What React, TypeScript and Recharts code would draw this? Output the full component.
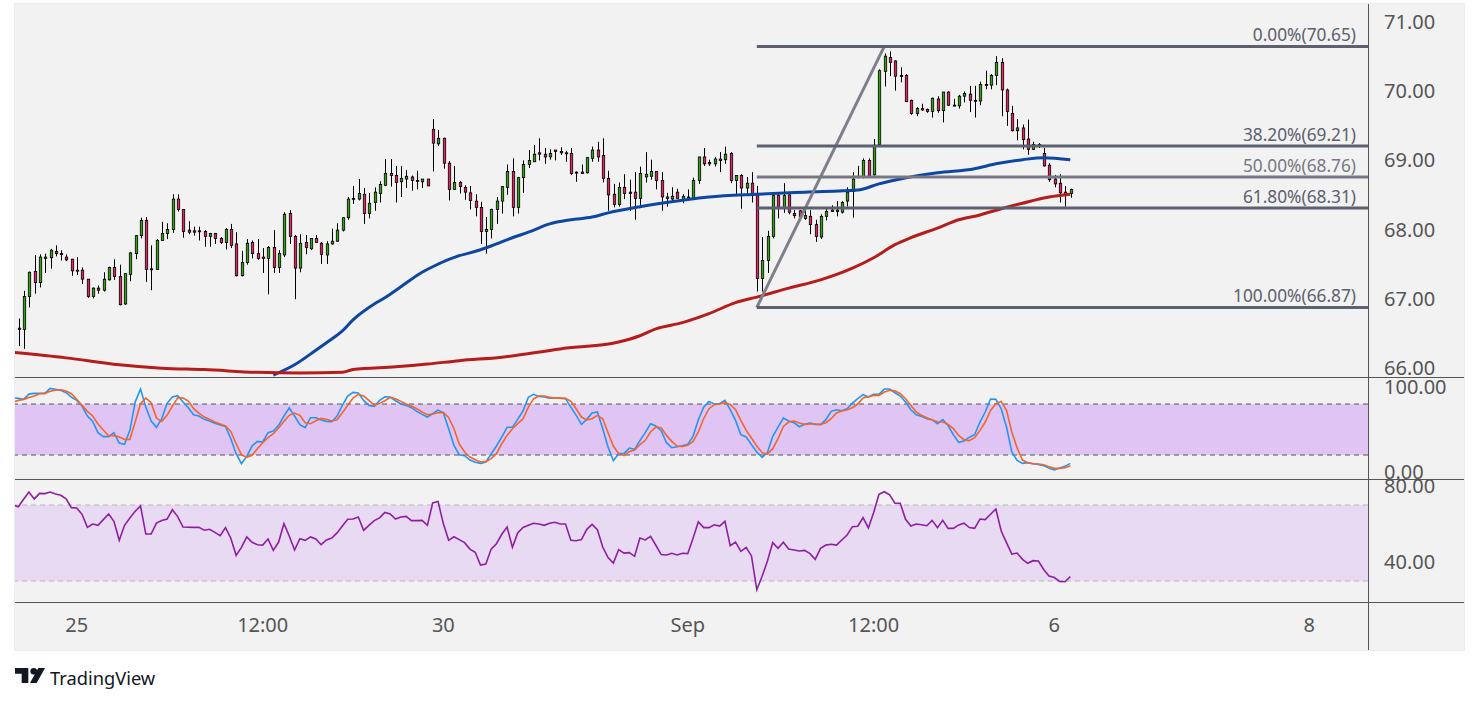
import React from 'react';
import { ComposedChart, Bar, Line, XAxis, YAxis, ReferenceLine, ReferenceArea } from 'recharts';

// candles
const opens = [
  66.57, 66.55, 67.03, 67.39, 67.23, 67.58, 67.59, 67.68, 67.65, 67.60,
  67.57, 67.41, 67.41, 67.28, 67.03, 67.15, 67.12, 67.27, 67.45, 67.32,
  66.92, 67.35, 67.65, 67.91, 68.13, 67.43, 67.42, 67.84, 67.94, 68.00,
  68.44, 68.29, 67.99, 67.98, 67.98, 67.97, 67.90, 67.94, 67.87, 67.81,
  68.00, 67.79, 67.33, 67.52, 67.81, 67.65, 67.60, 67.58, 67.74, 67.45,
  67.63, 68.23, 67.90, 67.44, 67.81, 67.72, 67.87, 67.80, 67.63, 67.79,
  67.83, 67.99, 68.17, 68.45, 68.44, 68.51, 68.23, 68.39, 68.52, 68.64,
  68.81, 68.78, 68.69, 68.73, 68.76, 68.71, 68.69, 68.73, 69.45, 69.24,
  69.32, 68.96, 68.58, 68.68, 68.61, 68.53, 68.41, 68.32, 67.97, 68.00,
  68.29, 68.41, 68.61, 68.84, 68.32, 68.75, 68.94, 68.98, 69.11, 69.09,
  69.05, 69.15, 69.13, 69.11, 69.10, 68.83, 68.83, 68.82, 69.03, 69.15,
  69.07, 68.74, 68.51, 68.36, 68.61, 68.54, 68.54, 68.45, 68.76, 68.77,
  68.84, 68.71, 68.47, 68.44, 68.54, 68.43, 68.47, 68.45, 68.71, 69.05,
  68.97, 68.95, 69.02, 69.01, 69.10, 68.71, 68.78, 68.60, 68.67, 68.49,
  67.29, 67.55, 67.90, 68.49, 68.32, 68.50, 68.23, 68.27, 68.16, 68.19,
  68.07, 67.89, 68.19, 68.26, 68.28, 68.25, 68.41, 68.55, 68.76, 68.76,
  69.00, 68.79, 69.23, 70.29, 70.49, 70.44, 70.23, 70.23, 69.87, 69.68,
  69.75, 69.74, 69.71, 69.89, 69.72, 69.99, 69.80, 69.79, 69.93, 69.96,
  69.87, 69.86, 70.10, 70.09, 70.23, 70.42, 70.02, 69.68, 69.43, 69.47,
  69.31, 69.16, 69.23, 69.10, 68.93, 68.73, 68.67, 68.54, 68.52,
];
const closes = [
  66.55, 67.03, 67.38, 67.23, 67.60, 67.60, 67.70, 67.65, 67.64, 67.56,
  67.40, 67.40, 67.28, 67.03, 67.15, 67.12, 67.28, 67.45, 67.32, 66.91,
  67.36, 67.66, 67.91, 68.13, 67.42, 67.42, 67.84, 67.94, 68.00, 68.44,
  68.29, 67.97, 67.96, 67.96, 67.97, 67.90, 67.94, 67.87, 67.81, 68.00,
  67.77, 67.33, 67.52, 67.80, 67.65, 67.58, 67.58, 67.74, 67.45, 67.65,
  68.22, 67.90, 67.44, 67.80, 67.74, 67.87, 67.81, 67.64, 67.79, 67.83,
  67.99, 68.17, 68.44, 68.44, 68.52, 68.23, 68.38, 68.54, 68.65, 68.81,
  68.78, 68.68, 68.74, 68.77, 68.71, 68.70, 68.73, 68.63, 69.25, 69.32,
  68.96, 68.58, 68.68, 68.62, 68.54, 68.42, 68.32, 67.97, 68.00, 68.29,
  68.41, 68.62, 68.84, 68.32, 68.75, 68.94, 69.00, 69.09, 69.09, 69.05,
  69.10, 69.13, 69.11, 69.11, 68.81, 68.82, 68.81, 69.04, 69.15, 69.05,
  68.74, 68.50, 68.36, 68.61, 68.52, 68.52, 68.45, 68.81, 68.80, 68.84,
  68.71, 68.47, 68.45, 68.48, 68.45, 68.48, 68.46, 68.71, 69.05, 68.95,
  68.95, 69.02, 69.00, 69.09, 68.71, 68.78, 68.60, 68.67, 68.49, 67.29,
  67.55, 67.90, 68.49, 68.32, 68.49, 68.25, 68.20, 68.18, 68.20, 68.07,
  67.90, 68.19, 68.26, 68.28, 68.26, 68.39, 68.54, 68.73, 68.77, 69.00,
  68.77, 69.22, 70.30, 70.51, 70.42, 70.22, 70.22, 69.85, 69.68, 69.75,
  69.73, 69.71, 69.90, 69.72, 69.99, 69.80, 69.79, 69.93, 69.97, 69.87,
  69.86, 70.10, 70.09, 70.23, 70.42, 70.02, 69.71, 69.43, 69.47, 69.30,
  69.16, 69.23, 69.22, 68.92, 68.72, 68.66, 68.53, 68.50, 68.58,
];
const highs = [
  66.71, 67.11, 67.39, 67.63, 67.64, 67.65, 67.72, 67.77, 67.70, 67.64,
  67.57, 67.60, 67.45, 67.28, 67.16, 67.19, 67.38, 67.46, 67.57, 67.49,
  67.37, 67.67, 67.92, 68.17, 68.18, 67.77, 67.86, 68.11, 68.09, 68.51,
  68.51, 68.29, 68.12, 68.04, 68.04, 67.99, 67.95, 67.95, 67.89, 68.02,
  68.08, 67.96, 67.69, 67.86, 67.84, 67.86, 67.73, 67.76, 67.99, 67.70,
  68.25, 68.28, 67.92, 67.93, 67.92, 67.87, 67.92, 67.82, 67.83, 68.01,
  68.09, 68.18, 68.47, 68.63, 68.73, 68.60, 68.53, 68.61, 68.70, 69.02,
  69.02, 68.92, 68.92, 68.86, 68.78, 68.85, 68.73, 68.73, 69.60, 69.44,
  69.33, 68.99, 68.92, 68.70, 68.64, 68.63, 68.51, 68.40, 68.18, 68.30,
  68.47, 68.63, 68.94, 69.03, 68.76, 69.00, 69.15, 69.22, 69.32, 69.18,
  69.16, 69.15, 69.19, 69.14, 69.18, 68.84, 68.94, 69.05, 69.20, 69.27,
  69.32, 68.85, 68.66, 68.68, 68.80, 68.72, 68.83, 68.91, 69.12, 69.01,
  68.84, 68.83, 68.53, 68.61, 68.59, 68.51, 68.58, 68.75, 69.05, 69.18,
  69.01, 69.05, 69.12, 69.20, 69.12, 68.78, 68.80, 68.76, 68.83, 68.63,
  67.89, 67.98, 68.53, 68.52, 68.67, 68.51, 68.28, 68.28, 68.28, 68.28,
  68.14, 68.22, 68.31, 68.35, 68.41, 68.41, 68.61, 68.83, 68.92, 69.03,
  69.03, 69.31, 70.32, 70.55, 70.58, 70.45, 70.35, 70.25, 69.88, 69.77,
  69.82, 69.75, 69.91, 69.93, 69.99, 70.00, 69.89, 69.95, 70.00, 70.08,
  70.08, 70.14, 70.30, 70.25, 70.51, 70.48, 70.04, 69.79, 69.60, 69.52,
  69.59, 69.27, 69.25, 69.18, 68.96, 68.79, 68.80, 68.63, 68.59,
];
const lows = [
  66.31, 66.27, 66.87, 67.07, 67.16, 67.37, 67.43, 67.61, 67.55, 67.54,
  67.33, 67.34, 67.21, 67.01, 67.00, 67.07, 67.10, 67.26, 67.27, 66.90,
  66.91, 67.25, 67.57, 67.87, 67.24, 67.12, 67.42, 67.84, 67.86, 67.95,
  68.26, 67.88, 67.93, 67.91, 67.84, 67.75, 67.75, 67.79, 67.79, 67.71,
  67.73, 67.32, 67.32, 67.49, 67.58, 67.56, 67.37, 67.06, 67.37, 67.37,
  67.60, 67.79, 66.99, 67.38, 67.64, 67.70, 67.81, 67.50, 67.50, 67.78,
  67.82, 67.97, 68.14, 68.37, 68.42, 68.08, 68.16, 68.27, 68.39, 68.63,
  68.62, 68.39, 68.47, 68.60, 68.56, 68.58, 68.60, 68.63, 68.84, 69.21,
  68.88, 68.42, 68.58, 68.52, 68.43, 68.29, 68.19, 67.79, 67.65, 67.87,
  68.08, 68.23, 68.50, 68.19, 68.23, 68.53, 68.89, 68.98, 69.00, 68.95,
  69.01, 69.00, 69.08, 68.98, 68.79, 68.69, 68.81, 68.81, 68.98, 68.98,
  68.68, 68.27, 68.32, 68.33, 68.44, 68.27, 68.14, 68.34, 68.68, 68.72,
  68.58, 68.27, 68.33, 68.41, 68.45, 68.38, 68.43, 68.44, 68.66, 68.92,
  68.92, 68.91, 68.83, 68.95, 68.67, 68.51, 68.30, 68.49, 68.39, 67.10,
  67.10, 67.37, 67.87, 68.16, 68.24, 68.22, 68.16, 68.15, 68.14, 67.93,
  67.82, 67.86, 68.13, 68.26, 68.19, 68.23, 68.33, 68.17, 68.74, 68.74,
  68.76, 68.78, 69.22, 70.07, 70.22, 70.01, 70.13, 69.85, 69.66, 69.64,
  69.72, 69.69, 69.62, 69.69, 69.55, 69.79, 69.79, 69.75, 69.84, 69.70,
  69.62, 69.80, 70.03, 70.03, 70.09, 69.64, 69.50, 69.42, 69.29, 69.16,
  69.08, 69.15, 69.18, 68.91, 68.69, 68.61, 68.39, 68.33, 68.46,
];

// moving averages, read at these bars
const blueMaBars = [48, 52, 56, 58, 61, 63, 67, 69, 72, 76, 78, 83, 85, 89, 93, 96, 100, 104, 108, 111, 117, 121, 130, 139, 148, 158, 162, 166, 173, 180, 184, 189, 193, 198];
const blueMaValues = [65.89, 66.04, 66.25, 66.36, 66.53, 66.69, 66.92, 67.01, 67.17, 67.38, 67.46, 67.62, 67.66, 67.76, 67.88, 67.96, 68.08, 68.14, 68.18, 68.24, 68.33, 68.38, 68.47, 68.51, 68.54, 68.57, 68.66, 68.73, 68.82, 68.88, 68.95, 69.01, 69.04, 69.01];
const redMaBars = [-1, 9, 19, 27, 35, 45, 53, 61, 63, 71, 77, 83, 91, 102, 113, 117, 120, 125, 130, 135, 139, 145, 151, 157, 161, 165, 168, 173, 177, 181, 185, 189, 194, 198];
const redMaValues = [66.22, 66.14, 66.04, 65.99, 65.97, 65.93, 65.92, 65.93, 65.97, 66.01, 66.05, 66.10, 66.15, 66.27, 66.37, 66.46, 66.56, 66.65, 66.78, 66.94, 67.02, 67.15, 67.27, 67.44, 67.59, 67.78, 67.88, 68.02, 68.14, 68.21, 68.30, 68.38, 68.47, 68.51];

// stochastic and RSI, first entry sits just left of the first candle
const stochK = [
  87.4, 86.7, 85.5, 91.7, 92.5, 92.5, 92.5, 98.4, 97.2, 96.1, 93.3, 88.2, 84.3, 77.6, 65.9, 59.6, 46.3, 41.6, 41.6, 46.3,
  34.1, 32.6, 49.0, 82.3, 97.6, 76.4, 60.0, 52.6, 62.7, 80.8, 88.2, 89.8, 82.3, 75.7, 67.4, 65.9, 62.0, 60.0, 57.3, 55.3,
  53.7, 39.2, 21.6, 9.8, 18.4, 30.6, 36.1, 35.3, 46.3, 48.2, 54.9, 65.9, 75.3, 65.9, 55.7, 52.1, 63.9, 63.9, 61.2, 59.6,
  59.2, 65.9, 78.4, 89.4, 93.7, 92.9, 84.3, 78.4, 77.2, 84.3, 88.6, 88.2, 83.9, 80.0, 78.4, 75.7, 71.4, 67.8, 64.7, 68.6,
  72.9, 69.8, 51.0, 31.4, 20.4, 19.2, 14.1, 11.4, 10.2, 11.8, 21.2, 30.6, 41.2, 52.6, 52.6, 62.0, 71.8, 87.8, 91.4,
  89.0, 88.2, 87.0, 87.0, 87.0, 86.3, 76.4, 66.7, 56.1, 62.0, 69.4, 70.6, 51.0, 29.4, 13.4, 21.6, 21.6, 28.2, 26.7, 36.9,
  46.3, 56.9, 54.1, 48.6, 34.5, 28.6, 29.8, 31.0, 32.6, 42.0, 61.6, 76.4, 83.1, 80.0, 80.4, 84.3, 73.3, 60.8, 43.9, 41.2,
  32.2, 23.5, 17.3, 22.8, 42.0, 52.9, 63.5, 60.0, 58.0, 53.3, 56.1, 57.6, 56.1, 55.7, 61.6, 71.4, 73.3, 72.1, 74.5, 81.2,
  86.3, 91.0, 88.2, 91.4, 91.4, 97.6, 97.6, 93.3, 89.4, 82.3, 73.3, 67.4, 65.5, 62.7, 61.6, 56.9, 61.6, 54.9, 43.9, 34.9,
  36.5, 40.8, 43.9, 58.8, 70.6, 85.9, 85.5, 74.5, 52.9, 23.5, 13.7, 10.2, 11.0, 9.8, 9.0, 7.5, 4.3, 2.4, 4.7, 6.7, 10.2,
];
const stochD = [
  82.3, 84.3, 85.5, 87.8, 89.4, 92.1, 92.5, 94.9, 96.5, 96.8, 95.3, 92.1, 85.5, 78.4, 71.4, 65.9, 56.5, 49.4, 42.7, 43.1,
  41.2, 38.4, 38.4, 58.8, 80.4, 87.0, 81.6, 63.5, 59.6, 66.7, 77.6, 87.4, 87.0, 83.5, 74.5, 69.4, 64.7, 62.0, 58.8, 56.5,
  54.1, 47.8, 33.3, 20.4, 17.3, 19.6, 27.5, 34.5, 40.4, 45.1, 51.8, 59.6, 66.7, 69.4, 66.7, 58.0, 56.9, 60.4, 63.1, 62.0,
  60.0, 61.6, 69.8, 78.4, 87.0, 91.4, 89.4, 84.3, 78.4, 80.8, 83.9, 87.8, 86.3, 83.1, 80.0, 77.6, 74.5, 70.6, 67.4, 68.2,
  69.8, 70.2, 64.3, 51.0, 32.9, 23.5, 17.7, 14.5, 11.8, 12.2, 15.7, 21.6, 33.3, 43.1, 51.0, 56.9, 62.7, 76.4, 86.3,
  89.4, 89.4, 87.8, 87.0, 87.0, 86.7, 83.1, 74.5, 64.7, 61.2, 62.7, 66.7, 62.7, 46.3, 30.6, 21.6, 19.2, 24.3, 25.9, 32.2,
  37.3, 47.1, 52.9, 52.1, 43.1, 36.1, 30.6, 30.2, 31.4, 36.1, 47.1, 62.7, 74.5, 79.2, 80.0, 81.6, 79.6, 73.3, 60.8, 49.0,
  40.0, 30.6, 22.8, 21.2, 27.5, 39.2, 53.7, 58.8, 60.0, 57.6, 56.1, 56.5, 56.5, 56.1, 58.0, 62.7, 69.4, 71.8, 73.3, 75.7,
  80.0, 87.0, 88.6, 90.2, 90.2, 94.1, 96.1, 95.7, 92.1, 86.3, 78.4, 70.6, 66.7, 63.9, 61.2, 59.2, 58.8, 56.1, 51.0, 43.1,
  38.0, 36.9, 40.4, 49.0, 58.8, 72.5, 80.4, 83.1, 72.5, 47.1, 28.2, 14.1, 11.0, 9.8, 9.4, 8.6, 6.3, 4.3, 4.3, 5.1, 7.5,
];
const rsiValues = [
  70.0, 69.1, 73.0, 76.8, 73.2, 76.1, 76.0, 76.8, 75.8, 75.1, 73.2, 68.6, 68.4, 65.1, 58.2, 60.0, 59.3, 62.3, 65.3, 61.4,
  51.4, 59.3, 63.2, 66.7, 69.5, 54.7, 54.7, 60.5, 61.8, 62.6, 67.5, 63.9, 58.4, 58.3, 58.2, 58.2, 56.7, 57.2, 55.6, 53.9,
  58.1, 52.5, 43.5, 47.7, 53.2, 50.4, 49.1, 48.9, 52.1, 46.1, 50.5, 60.2, 53.7, 46.3, 52.3, 51.4, 53.2, 52.1, 49.1, 51.6,
  52.6, 55.3, 58.9, 62.5, 62.6, 63.7, 56.7, 59.3, 61.8, 63.2, 66.1, 65.3, 62.6, 63.7, 64.0, 61.8, 61.8, 61.9, 59.3, 71.1,
  71.9, 60.2, 51.4, 53.3, 51.8, 50.2, 46.8, 45.1, 38.4, 38.9, 46.8, 49.6, 54.6, 58.4, 47.7, 55.3, 58.2, 59.3, 60.4,
  60.0, 59.3, 60.4, 60.9, 60.0, 60.0, 51.4, 51.2, 51.8, 57.2, 59.8, 57.0, 47.9, 42.3, 39.5, 46.5, 44.7, 44.9, 43.0, 52.6,
  51.6, 53.5, 48.8, 43.9, 43.7, 44.6, 43.7, 44.6, 44.4, 52.5, 61.2, 58.1, 58.1, 59.6, 58.9, 61.4, 48.6, 50.5, 45.6, 47.7,
  43.2, 25.4, 32.5, 40.5, 50.2, 47.2, 50.4, 46.8, 46.3, 45.8, 46.1, 44.4, 41.4, 47.2, 48.9, 49.3, 48.9, 51.6, 54.2, 58.6,
  58.8, 63.3, 57.9, 66.1, 75.6, 77.0, 75.4, 70.9, 70.9, 62.5, 58.9, 60.0, 59.6, 59.1, 61.9, 58.1, 61.9, 57.7, 57.7, 59.5,
  60.4, 58.1, 57.7, 62.6, 62.3, 65.1, 67.9, 56.3, 50.2, 44.2, 44.7, 41.4, 39.3, 40.7, 40.5, 36.1, 32.6, 31.8, 29.8, 29.6, 32.3,
];

// fibonacci retracement levels
const fibValues = [70.65, 69.21, 68.76, 68.31, 66.87];
const fibLabels = ['0.00%(70.65)', '38.20%(69.21)', '50.00%(68.76)', '61.80%(68.31)', '100.00%(66.87)'];
const fibStartBar = 139;
const fibTrendEndBar = 163;

const priceTicks = [66, 67, 68, 69, 70, 71];
const stochTicks = [0, 100];
const rsiTicks = [40, 80];
const timeTickBars = [11, 46, 80, 126, 161, 195, 243];
const timeTickLabels = ['25', '12:00', '30', 'Sep', '12:00', '6', '8'];

const candles = opens.map((open, i) => ({ i, open, close: closes[i], high: highs[i], low: lows[i] }));
const oscillators = rsiValues.map((rsi, n) => ({ i: n - 1, rsi, k: stochK[n], d: stochD[n] }));
const blueMa = blueMaBars.map((i, n) => ({ i, v: blueMaValues[n] }));
const redMa = redMaBars.map((i, n) => ({ i, v: redMaValues[n] }));

const FONT = '"Noto Sans", sans-serif';
const AXIS_TEXT = '#555555';
const barDomain: [number, number] = [-0.62, 254.04];
const tickStyle = { fill: AXIS_TEXT, fontSize: 20, fontFamily: FONT };

const Candle = (props: any) => {
  const { x, y, width, height, payload } = props;
  const { open, close, high, low } = payload;
  const perUnit = height / (high - low);
  const top = y + (high - Math.max(open, close)) * perUnit;
  const bodyH = Math.max(Math.abs(open - close) * perUnit, 1);
  // snap to whole pixels so the wicks stay sharp
  const cx = Math.round(x + width / 2) + 0.5;
  return (
    <g>
      <line x1={cx} x2={cx} y1={y} y2={y + height} stroke="#000" strokeWidth={1} />
      <rect x={cx - 1.2} y={top} width={2.4} height={bodyH} fill={close >= open ? '#2fa50d' : '#e91e63'} stroke="#000" strokeWidth={0.8} />
    </g>
  );
};

const fibLabel = (text: string, color: string) => (props: any) => {
  const vb = props.viewBox;
  return (
    <text x={vb.x + vb.width - 12} y={vb.y - 5} textAnchor="end" fontSize={17.3} fontFamily={FONT} fill={color}>
      {text}
    </text>
  );
};

const yAxisProps = {
  orientation: 'right' as const,
  width: 96,
  allowDataOverflow: true,
  axisLine: false,
  tickLine: false,
  tickSize: 0,
  tickMargin: 16,
  interval: 0 as const,
  tick: tickStyle,
  tickFormatter: (v: number) => v.toFixed(2),
};

const Logo = () => (
  <svg width={30} height={15} viewBox="0 0 36 18" style={{ display: 'block' }}>
    <path d="M16 0H0v7h8v11h8V0Z" fill="#131722" />
    <circle cx="22.5" cy="4" r="4" fill="#131722" />
    <path d="M26 18H18L28 0h8L26 18Z" fill="#131722" />
  </svg>
);

const App = () => (
  <div style={{ position: 'absolute', left: 0, top: 0, width: 1479, height: 703, background: '#fff', fontFamily: FONT, overflow: 'hidden' }}>
    <div style={{ position: 'absolute', left: 15, top: 4, width: 1449, height: 646, background: '#f2f2f2', outline: '1px solid #ebebf1' }} />

    {/* price pane */}
    <div style={{ position: 'absolute', left: 15, top: 4 }}>
      <ComposedChart width={1449} height={373} data={candles} margin={{ top: 0, right: 0, bottom: 0, left: 0 }} style={{ overflow: 'visible' }}>
        <XAxis dataKey="i" type="number" domain={barDomain} allowDataOverflow hide />
        <YAxis {...yAxisProps} domain={[65.863, 71.265]} ticks={priceTicks} />
        <Bar dataKey={(d: any) => [d.low, d.high]} barSize={4} shape={Candle} isAnimationActive={false} />
        <Line data={blueMa} dataKey="v" type="monotone" stroke="#0d47a1" strokeWidth={3} dot={false} isAnimationActive={false} />
        <Line data={redMa} dataKey="v" type="monotone" stroke="#b71c1c" strokeWidth={3} dot={false} isAnimationActive={false} />
        <ReferenceLine
          segment={[{ x: fibStartBar, y: fibValues[4] }, { x: fibTrendEndBar, y: fibValues[0] }]}
          stroke="#7f7f8c"
          strokeWidth={3}
        />
        {fibValues.map((v, n) => {
          const color = n === 2 ? '#787885' : '#5d606e';
          return (
            <ReferenceLine
              key={v}
              segment={[{ x: fibStartBar, y: v }, { x: barDomain[1], y: v }]}
              stroke={color}
              strokeWidth={3}
              label={fibLabel(fibLabels[n], color)}
            />
          );
        })}
      </ComposedChart>
    </div>

    {/* stochastic pane */}
    <div style={{ position: 'absolute', left: 15, top: 377 }}>
      <ComposedChart width={1449} height={102} data={oscillators} margin={{ top: 0, right: 0, bottom: 0, left: 0 }} style={{ overflow: 'visible' }}>
        <XAxis dataKey="i" type="number" domain={barDomain} allowDataOverflow hide />
        <YAxis {...yAxisProps} domain={[-8.2, 111.8]} ticks={stochTicks} />
        <ReferenceArea y1={20} y2={80} fill="#e0c4f4" fillOpacity={1} stroke="none" />
        <ReferenceLine y={80} stroke="#555555" strokeDasharray="5 4" />
        <ReferenceLine y={20} stroke="#555555" strokeDasharray="5 4" />
        <Line dataKey="k" type="linear" stroke="#2196f3" strokeWidth={1.6} dot={false} isAnimationActive={false} />
        <Line dataKey="d" type="linear" stroke="#f4652a" strokeWidth={1.6} dot={false} isAnimationActive={false} />
      </ComposedChart>
    </div>

    {/* rsi pane with the time axis under it */}
    <div style={{ position: 'absolute', left: 15, top: 479 }}>
      <ComposedChart width={1449} height={171} data={oscillators} margin={{ top: 0, right: 0, bottom: 0, left: 0 }} style={{ overflow: 'visible' }}>
        <XAxis
          dataKey="i"
          type="number"
          domain={barDomain}
          allowDataOverflow
          ticks={timeTickBars}
          interval={0}
          height={48}
          axisLine={false}
          tickLine={false}
          tickSize={0}
          tickMargin={16}
          tick={tickStyle}
          tickFormatter={(v: number) => timeTickLabels[timeTickBars.indexOf(v)]}
        />
        <YAxis {...yAxisProps} domain={[18.95, 83.68]} ticks={rsiTicks} />
        <ReferenceArea y1={30} y2={70} fill="#e8daf2" fillOpacity={1} stroke="none" />
        <ReferenceLine y={70} stroke="#bdb4c2" strokeDasharray="5 4" />
        <ReferenceLine y={30} stroke="#bdb4c2" strokeDasharray="5 4" />
        <Line dataKey="rsi" type="linear" stroke="#8e1fa3" strokeWidth={1.6} dot={false} isAnimationActive={false} />
      </ComposedChart>
    </div>

    {/* pane separators and the price axis border */}
    <div style={{ position: 'absolute', left: 15, top: 377, width: 1449, height: 1, background: '#555' }} />
    <div style={{ position: 'absolute', left: 15, top: 479, width: 1449, height: 1, background: '#555' }} />
    <div style={{ position: 'absolute', left: 15, top: 602, width: 1449, height: 1, background: '#555' }} />
    <div style={{ position: 'absolute', left: 1368, top: 4, width: 1, height: 646, background: '#555' }} />

    <div style={{ position: 'absolute', left: 15, top: 668 }}><Logo /></div>
    <div style={{ position: 'absolute', left: 50, top: 664, fontSize: 18.3, color: '#131722', lineHeight: '28px' }}>TradingView</div>
  </div>
);

export default App;
